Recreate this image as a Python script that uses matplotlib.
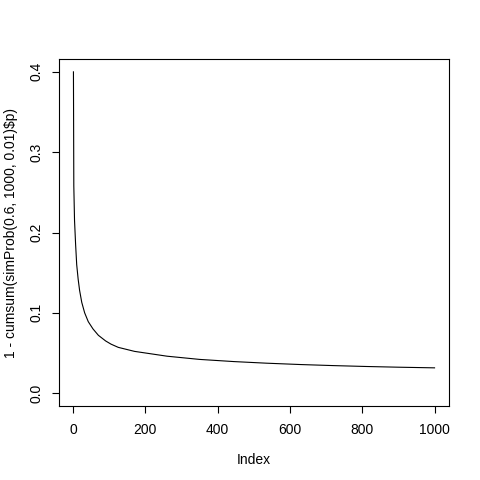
import matplotlib
matplotlib.use('Agg')
import matplotlib.pyplot as plt

# values
index = [1, 2, 4, 7, 10, 14, 18, 24, 32, 42, 55, 70, 90, 105, 125, 170, 260, 350, 445,
         535, 630, 720, 810, 900, 1000]
tail_prob = [0.400, 0.258, 0.215, 0.185, 0.160, 0.142, 0.128, 0.113, 0.100, 0.089, 0.080,
             0.072, 0.065, 0.061, 0.057, 0.052, 0.046, 0.042, 0.0393, 0.0373, 0.0356,
             0.0343, 0.0332, 0.0323, 0.0315]
xticks = [0, 200, 400, 600, 800, 1000]
yticks = [0.0, 0.1, 0.2, 0.3, 0.4]

plt.rcParams['font.family'] = ['Liberation Sans', 'DejaVu Sans']

fig = plt.figure(figsize=(4.8, 4.8), dpi=100)
ax = fig.add_axes([59 / 480, 74 / 480, 390 / 480, 347 / 480])

ax.plot(index, tail_prob, color='black', linewidth=0.8)

# R-style 4% padding around data range
xr = 1000 - 1
ax.set_xlim(1 - 0.04 * xr, 1000 + 0.04 * xr)
ax.set_ylim(0 - 0.04 * 0.4, 0.4 + 0.04 * 0.4)

ax.set_xticks(xticks)
ax.set_xticklabels([str(t) for t in xticks])
ax.set_yticks(yticks)
ax.set_yticklabels(['%.1f' % t for t in yticks], rotation=90, va='center')

ax.tick_params(direction='out', length=5, width=0.8, labelsize=10, colors='black')
ax.tick_params(axis='x', pad=7)
ax.tick_params(axis='y', pad=6)
for s in ax.spines.values():
    s.set_linewidth(0.8)

ax.set_xlabel('Index', fontsize=10)
ax.xaxis.set_label_coords(0.5, -0.135)
ax.set_ylabel('1 - cumsum(simProb(0.6, 1000, 0.01)$p)', fontsize=10)
ax.yaxis.set_label_coords(-0.106, 0.5)

fig.savefig('out.png', dpi=100)
